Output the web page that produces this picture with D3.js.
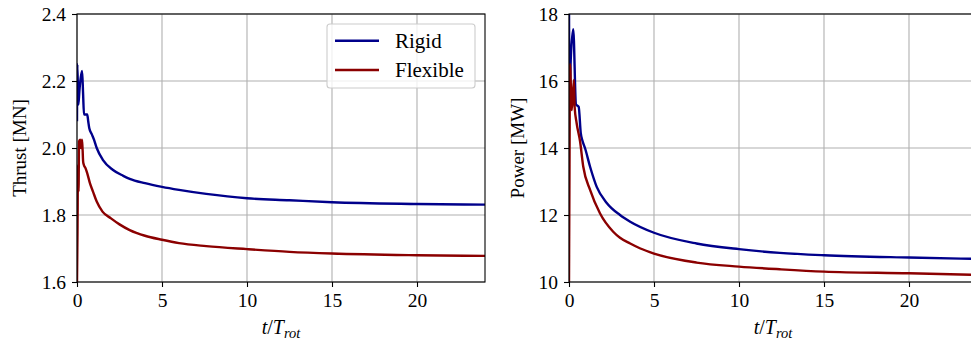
<!DOCTYPE html>
<html><head><meta charset="utf-8">
<script src="https://cdn.jsdelivr.net/npm/d3@7"></script>
<style>
html,body{margin:0;padding:0;background:#fff;overflow:hidden}
svg text{font-family:"Liberation Serif","DejaVu Serif","Noto Serif",serif !important;fill:#000}
</style></head>
<body><svg id="c" width="971" height="344"></svg>
<script>
// ---- data ----
const xTicks = [0, 5, 10, 15, 20];
const thrustTicks = [1.6, 1.8, 2.0, 2.2, 2.4];
const thrustTickLabels = ["1.6", "1.8", "2.0", "2.2", "2.4"];
const powerTicks = [10, 12, 14, 16, 18];
const powerTickLabels = ["10", "12", "14", "16", "18"];
const seriesNames = ["Rigid", "Flexible"];

const tThrustRigid = [0.0, 0.02, 0.08, 0.14, 0.22, 0.3, 0.36, 0.41, 0.6, 0.66, 0.72, 0.88, 1.0, 1.16, 1.53, 2.1, 2.72, 3.1, 4, 5, 6, 7.6, 10, 12.5, 15, 20, 24];
const thrustRigid = [2.08, 2.25, 2.13, 2.17, 2.21, 2.23, 2.16, 2.10, 2.10, 2.08, 2.06, 2.04, 2.025, 2.0, 1.964, 1.935, 1.917, 1.908, 1.895, 1.884, 1.875, 1.863, 1.85, 1.844, 1.838, 1.833, 1.831];

const tThrustFlex = [0.0, 0.03, 0.06, 0.09, 0.12, 0.18, 0.24, 0.3, 0.36, 0.4, 0.5, 0.6, 0.76, 0.94, 1.16, 1.5, 2.0, 2.5, 3.1, 4, 5, 6, 7.6, 10, 12.5, 15, 20, 24];
const thrustFlex = [1.6, 1.75, 1.95, 1.87, 2.02, 2.025, 2.0, 2.025, 1.96, 1.95, 1.94, 1.925, 1.895, 1.87, 1.84, 1.81, 1.79, 1.772, 1.755, 1.738, 1.726, 1.716, 1.707, 1.698, 1.69, 1.685, 1.68, 1.678];

const tPowerRigid = [0.0, 0.03, 0.1, 0.25, 0.41, 0.57, 0.69, 0.8, 0.94, 1.24, 1.63, 2.22, 3.0, 3.6, 5, 7.5, 10, 12.4, 15, 20, 24];
const powerRigid = [18.2, 15.5, 16.6, 17.55, 15.3, 15.23, 14.45, 14.2, 14.0, 13.44, 12.84, 12.36, 12.0, 11.8, 11.47, 11.15, 10.98, 10.87, 10.8, 10.73, 10.69];

const tPowerFlex = [0.0, 0.03, 0.06, 0.16, 0.29, 0.33, 0.45, 0.65, 0.84, 1.24, 1.82, 2.6, 3.0, 3.6, 4.2, 5, 7.5, 10, 12.4, 15, 20, 24];
const powerFlex = [10.0, 13.5, 16.5, 15.13, 16.03, 15.23, 14.74, 14.2, 13.44, 12.75, 12.05, 11.5, 11.32, 11.15, 11.0, 10.85, 10.58, 10.46, 10.38, 10.31, 10.26, 10.21];

// ---- drawing ----
const svg = d3.select("#c");
const colors = ["#00008b", "#8b0000"];
const H = {top: 14, bottom: 282};
const W = 408;
const FONT = "'Liberation Serif','DejaVu Serif','Noto Serif',serif";

function panel(opts) {
  const g = svg.append("g");
  const x = d3.scaleLinear().domain([0, 24]).range([opts.left, opts.left + W]);
  const y = d3.scaleLinear().domain(opts.yDomain).range([H.bottom, H.top]);
  const id = "clip" + opts.key;
  svg.append("clipPath").attr("id", id).append("rect")
    .attr("x", opts.left).attr("y", H.top).attr("width", W).attr("height", H.bottom - H.top);

  g.append("g").selectAll("line").data(xTicks).join("line")
    .attr("x1", d => x(d)).attr("x2", d => x(d)).attr("y1", H.top).attr("y2", H.bottom)
    .attr("stroke", "#b0b0b0").attr("stroke-width", 1.1);
  g.append("g").selectAll("line").data(opts.yTicks).join("line")
    .attr("x1", opts.left).attr("x2", opts.left + W).attr("y1", d => y(d)).attr("y2", d => y(d))
    .attr("stroke", "#b0b0b0").attr("stroke-width", 1.1);

  const series = [[opts.t0, opts.v0], [opts.t1, opts.v1]];
  const lg = g.append("g").attr("clip-path", `url(#${id})`);
  series.forEach((s, i) => {
    const pts = s[0].map((t, j) => [t, s[1][j]]);
    lg.append("path").datum(pts)
      .attr("fill", "none").attr("stroke", colors[i]).attr("stroke-width", 2.4)
      .attr("stroke-linejoin", "round")
      .attr("d", d3.line().x(d => x(d[0])).y(d => y(d[1])).curve(d3.curveMonotoneX));
  });

  g.append("rect").attr("x", opts.left).attr("y", H.top).attr("width", W).attr("height", H.bottom - H.top)
    .attr("fill", "none").attr("stroke", "#000").attr("stroke-width", 1.1);

  const xa = d3.axisBottom(x).tickValues(xTicks).tickSize(5).tickPadding(6).tickFormat(d3.format("d"));
  const xg = g.append("g").attr("transform", `translate(0,${H.bottom})`).call(xa);
  const ya = d3.axisLeft(y).tickValues(opts.yTicks).tickSize(5).tickPadding(6)
    .tickFormat((d, i) => opts.yLabels[i]);
  const yg = g.append("g").attr("transform", `translate(${opts.left},0)`).call(ya);
  [xg, yg].forEach(a => {
    a.attr("font-family", FONT).attr("font-size", 19.5);
    a.select(".domain").remove();
    a.selectAll(".tick line").attr("stroke", "#000").attr("stroke-width", 1.1);
    a.selectAll(".tick text").attr("fill", "#000");
  });

  const xl = g.append("text").attr("x", opts.left + W / 2).attr("y", 334)
    .attr("text-anchor", "middle").attr("font-size", 20).attr("font-family", FONT);
  xl.append("tspan").attr("font-style", "italic").text("t");
  xl.append("tspan").text("/");
  xl.append("tspan").attr("font-style", "italic").text("T");
  xl.append("tspan").attr("font-style", "italic").attr("font-size", 14.5).attr("dy", 4).text("rot");

  g.append("text").attr("transform", `translate(${opts.yLabelX},${(H.top + H.bottom) / 2}) rotate(-90)`)
    .attr("text-anchor", "middle").attr("font-size", 19).attr("font-family", FONT).text(opts.yTitle);
  return {x, y, g};
}

panel({key: "a", left: 77, yDomain: [1.6, 2.4], yTicks: thrustTicks, yLabels: thrustTickLabels,
  t0: tThrustRigid, v0: thrustRigid, t1: tThrustFlex, v1: thrustFlex, yTitle: "Thrust [MN]", yLabelX: 26});
panel({key: "b", left: 569, yDomain: [10, 18], yTicks: powerTicks, yLabels: powerTickLabels,
  t0: tPowerRigid, v0: powerRigid, t1: tPowerFlex, v1: powerFlex, yTitle: "Power [MW]", yLabelX: 524});

const lgd = svg.append("g");
lgd.append("rect").attr("x", 327).attr("y", 24).attr("width", 148).attr("height", 64).attr("rx", 3)
  .attr("fill", "#fff").attr("fill-opacity", 0.8).attr("stroke", "#cccccc").attr("stroke-width", 1.1);
seriesNames.forEach((n, i) => {
  const yy = 40.7 + i * 29.3;
  lgd.append("line").attr("x1", 335).attr("x2", 379).attr("y1", yy).attr("y2", yy)
    .attr("stroke", colors[i]).attr("stroke-width", 2.4);
  lgd.append("text").attr("x", 395).attr("y", yy + 7).attr("font-size", 21).attr("font-family", FONT).text(n);
});
</script></body></html>
